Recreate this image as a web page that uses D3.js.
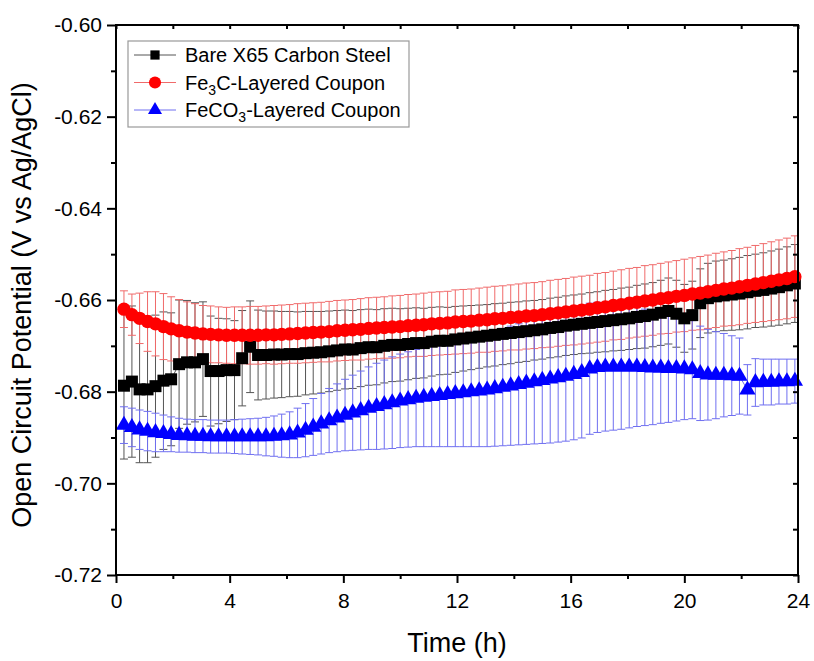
<!DOCTYPE html>
<html>
<head>
<meta charset="utf-8">
<script src="https://cdn.jsdelivr.net/npm/d3@7"></script>
<style>
  body { margin: 0; background: #fff; }
  svg { font-family: "Liberation Sans", Arial, sans-serif; }
</style>
</head>
<body>
<div id="chart"></div>
<script>
// sample times (h), one reading every 1000 s
const timeH = [0.28,0.56,0.83,1.11,1.39,1.67,1.94,2.22,2.50,2.78,3.06,3.33,3.61,3.89,4.17,4.44,4.72,5.00,5.28,5.56,
  5.83,6.11,6.39,6.67,6.94,7.22,7.50,7.78,8.06,8.33,8.61,8.89,9.17,9.44,9.72,10.00,10.28,10.56,10.83,11.11,
  11.39,11.67,11.94,12.22,12.50,12.78,13.06,13.33,13.61,13.89,14.17,14.44,14.72,15.00,15.28,15.56,15.83,16.11,16.39,16.67,
  16.94,17.22,17.50,17.78,18.06,18.33,18.61,18.89,19.17,19.44,19.72,20.00,20.28,20.56,20.83,21.11,21.39,21.67,21.94,22.22,
  22.50,22.78,23.06,23.33,23.61,23.89];

const bareOcp = [-0.6787,-0.6778,-0.6795,-0.6795,-0.6788,-0.6776,-0.6773,-0.6740,-0.6736,-0.6736,
  -0.6729,-0.6755,-0.6755,-0.6753,-0.6753,-0.6727,-0.6702,-0.6720,-0.6720,-0.6719,
  -0.6719,-0.6718,-0.6718,-0.6716,-0.6715,-0.6714,-0.6712,-0.6710,-0.6708,-0.6708,
  -0.6705,-0.6703,-0.6703,-0.6700,-0.6698,-0.6698,-0.6696,-0.6694,-0.6694,-0.6691,
  -0.6689,-0.6689,-0.6686,-0.6684,-0.6682,-0.6680,-0.6678,-0.6676,-0.6674,-0.6672,
  -0.6670,-0.6668,-0.6666,-0.6664,-0.6661,-0.6659,-0.6656,-0.6654,-0.6652,-0.6650,
  -0.6648,-0.6646,-0.6644,-0.6642,-0.6640,-0.6637,-0.6635,-0.6632,-0.6628,-0.6624,
  -0.6630,-0.6640,-0.6633,-0.6607,-0.6596,-0.6592,-0.6590,-0.6588,-0.6586,-0.6583,
  -0.6580,-0.6578,-0.6575,-0.6572,-0.6568,-0.6564];
const bareErr = [0.0160,0.0165,0.0160,0.0160,0.0155,0.0150,0.0145,0.0140,0.0135,0.0130,
  0.0125,0.0120,0.0115,0.0112,0.0108,0.0104,0.0100,0.0098,0.0096,0.0095,
  0.0094,0.0093,0.0092,0.0091,0.0090,0.0089,0.0088,0.0087,0.0086,0.0085,
  0.0084,0.0083,0.0082,0.0081,0.0080,0.0079,0.0078,0.0077,0.0076,0.0075,
  0.0074,0.0073,0.0072,0.0071,0.0070,0.0069,0.0068,0.0068,0.0067,0.0067,
  0.0066,0.0066,0.0065,0.0065,0.0065,0.0065,0.0065,0.0065,0.0065,0.0066,
  0.0066,0.0067,0.0067,0.0068,0.0068,0.0069,0.0070,0.0070,0.0071,0.0072,
  0.0073,0.0074,0.0074,0.0075,0.0076,0.0077,0.0077,0.0078,0.0079,0.0080,
  0.0080,0.0081,0.0082,0.0083,0.0084,0.0085];

const fe3cOcp = [-0.6620,-0.6632,-0.6640,-0.6647,-0.6652,-0.6658,-0.6663,-0.6667,-0.6670,-0.6672,
  -0.6674,-0.6675,-0.6676,-0.6677,-0.6677,-0.6677,-0.6677,-0.6677,-0.6676,-0.6676,
  -0.6675,-0.6674,-0.6673,-0.6672,-0.6671,-0.6670,-0.6669,-0.6667,-0.6666,-0.6665,
  -0.6664,-0.6662,-0.6661,-0.6660,-0.6659,-0.6658,-0.6656,-0.6655,-0.6654,-0.6652,
  -0.6651,-0.6650,-0.6648,-0.6647,-0.6646,-0.6644,-0.6643,-0.6641,-0.6640,-0.6638,
  -0.6637,-0.6635,-0.6634,-0.6632,-0.6630,-0.6628,-0.6626,-0.6624,-0.6622,-0.6620,
  -0.6617,-0.6615,-0.6612,-0.6610,-0.6607,-0.6605,-0.6602,-0.6600,-0.6597,-0.6595,
  -0.6592,-0.6590,-0.6587,-0.6585,-0.6582,-0.6579,-0.6576,-0.6574,-0.6571,-0.6568,
  -0.6565,-0.6562,-0.6559,-0.6556,-0.6553,-0.6549];
const fe3cErr = [0.0040,0.0045,0.0055,0.0065,0.0070,0.0072,0.0070,0.0068,0.0066,0.0064,
  0.0062,0.0062,0.0061,0.0061,0.0062,0.0062,0.0063,0.0063,0.0063,0.0064,
  0.0064,0.0064,0.0065,0.0065,0.0065,0.0065,0.0066,0.0066,0.0066,0.0066,
  0.0067,0.0067,0.0067,0.0067,0.0068,0.0068,0.0068,0.0068,0.0069,0.0069,
  0.0069,0.0069,0.0070,0.0070,0.0070,0.0070,0.0071,0.0071,0.0071,0.0071,
  0.0072,0.0072,0.0072,0.0072,0.0073,0.0073,0.0073,0.0074,0.0074,0.0074,
  0.0075,0.0075,0.0075,0.0076,0.0076,0.0076,0.0077,0.0077,0.0077,0.0078,
  0.0078,0.0079,0.0079,0.0080,0.0080,0.0081,0.0081,0.0082,0.0083,0.0083,
  0.0084,0.0085,0.0086,0.0087,0.0088,0.0089];

const feco3Ocp = [-0.6873,-0.6878,-0.6883,-0.6886,-0.6889,-0.6891,-0.6893,-0.6895,-0.6896,-0.6897,
  -0.6897,-0.6898,-0.6898,-0.6898,-0.6898,-0.6898,-0.6898,-0.6898,-0.6898,-0.6897,
  -0.6896,-0.6894,-0.6890,-0.6884,-0.6877,-0.6870,-0.6863,-0.6857,-0.6851,-0.6846,
  -0.6841,-0.6836,-0.6832,-0.6828,-0.6824,-0.6820,-0.6817,-0.6814,-0.6812,-0.6810,
  -0.6808,-0.6806,-0.6804,-0.6802,-0.6800,-0.6798,-0.6796,-0.6793,-0.6790,-0.6787,
  -0.6784,-0.6781,-0.6778,-0.6775,-0.6772,-0.6769,-0.6766,-0.6762,-0.6758,-0.6750,
  -0.6747,-0.6746,-0.6746,-0.6746,-0.6746,-0.6746,-0.6747,-0.6748,-0.6748,-0.6749,
  -0.6749,-0.6750,-0.6752,-0.6760,-0.6763,-0.6764,-0.6764,-0.6765,-0.6766,-0.6796,
  -0.6780,-0.6779,-0.6779,-0.6778,-0.6778,-0.6777];
const feco3Err = [0.0040,0.0042,0.0043,0.0043,0.0042,0.0040,0.0038,0.0037,0.0036,0.0036,
  0.0036,0.0036,0.0036,0.0036,0.0037,0.0038,0.0039,0.0040,0.0042,0.0044,
  0.0047,0.0050,0.0054,0.0058,0.0062,0.0066,0.0070,0.0074,0.0078,0.0082,
  0.0086,0.0090,0.0094,0.0097,0.0100,0.0102,0.0104,0.0106,0.0108,0.0110,
  0.0112,0.0114,0.0116,0.0118,0.0120,0.0122,0.0124,0.0126,0.0128,0.0130,
  0.0132,0.0134,0.0136,0.0138,0.0140,0.0141,0.0142,0.0143,0.0143,0.0143,
  0.0142,0.0140,0.0138,0.0136,0.0133,0.0130,0.0127,0.0124,0.0121,0.0118,
  0.0115,0.0111,0.0107,0.0103,0.0099,0.0095,0.0091,0.0087,0.0083,0.0055,
  0.0052,0.0050,0.0050,0.0049,0.0049,0.0048];

const xTicks = [0, 4, 8, 12, 16, 20, 24];
const xMinorTicks = [2, 6, 10, 14, 18, 22];
const yTicks = [-0.60, -0.62, -0.64, -0.66, -0.68, -0.70, -0.72];
const yMinorTicks = [-0.61, -0.63, -0.65, -0.67, -0.69, -0.71];

const series = [
    { name: "bare", label: ["Bare X65 Carbon Steel"], y: bareOcp, err: bareErr,
      color: "#000", errColor: "#555", symbol: d3.symbolSquare, size: 144, legendSize: 85 },
    { name: "fe3c", label: ["Fe", "3", "C-Layered Coupon"], y: fe3cOcp, err: fe3cErr,
      color: "#ff0000", errColor: "#f06a6a", symbol: d3.symbolCircle, size: 140, legendSize: 115 },
    { name: "feco3", label: ["FeCO", "3", "-Layered Coupon"], y: feco3Ocp, err: feco3Err,
      color: "#0000ff", errColor: "#6f6ff0", symbol: d3.symbolTriangle, size: 115, legendSize: 85 },
];

const width = 814, height = 661;
const margin = { top: 25, right: 16, bottom: 86, left: 116 };

const x = d3.scaleLinear().domain([0, 24]).range([margin.left, width - margin.right]);
const y = d3.scaleLinear().domain([-0.72, -0.60]).range([height - margin.bottom, margin.top]);

const svg = d3.select("#chart").append("svg")
    .attr("width", width)
    .attr("height", height)
    .attr("viewBox", [0, 0, width, height]);

const plot = svg.append("g");

// error bars first, markers on top
series.forEach(s => {
    const pts = timeH.map((t, i) => ({ t, v: s.y[i], e: s.err[i] }));
    const g = plot.append("g").attr("class", "err-" + s.name)
        .attr("stroke", s.errColor).attr("stroke-width", 1).attr("fill", "none");
    g.selectAll("line.v").data(pts).join("line").attr("class", "v")
        .attr("x1", d => x(d.t)).attr("x2", d => x(d.t))
        .attr("y1", d => y(d.v - d.e)).attr("y2", d => y(d.v + d.e));
    g.selectAll("line.hi").data(pts).join("line").attr("class", "hi")
        .attr("x1", d => x(d.t) - 4).attr("x2", d => x(d.t) + 4)
        .attr("y1", d => y(d.v + d.e)).attr("y2", d => y(d.v + d.e));
    g.selectAll("line.lo").data(pts).join("line").attr("class", "lo")
        .attr("x1", d => x(d.t) - 4).attr("x2", d => x(d.t) + 4)
        .attr("y1", d => y(d.v - d.e)).attr("y2", d => y(d.v - d.e));
});

series.forEach(s => {
    const pts = timeH.map((t, i) => ({ t, v: s.y[i] }));
    plot.append("path")
        .datum(pts)
        .attr("fill", "none")
        .attr("stroke", s.errColor)
        .attr("stroke-width", 1)
        .attr("d", d3.line().x(d => x(d.t)).y(d => y(d.v)));
    plot.append("g").selectAll("path").data(pts).join("path")
        .attr("transform", d => `translate(${x(d.t)},${y(d.v)})`)
        .attr("d", d3.symbol(s.symbol, s.size))
        .attr("fill", s.color);
});

// axes
const axisFont = g => g.selectAll("text")
    .attr("font-family", "Liberation Sans, Arial, sans-serif")
    .attr("font-size", 21)
    .attr("fill", "#000");

const bottom = height - margin.bottom;
svg.append("g")
    .attr("transform", `translate(0,${bottom})`)
    .call(d3.axisBottom(x).tickValues(xTicks).tickSize(8).tickPadding(10).tickFormat(d3.format("d")))
    .call(g => g.select(".domain").remove())
    .call(g => g.selectAll("line").attr("stroke-width", 2))
    .call(axisFont);
svg.append("g")
    .attr("transform", `translate(0,${bottom})`)
    .call(d3.axisBottom(x).tickValues(xMinorTicks).tickSize(4).tickFormat(""))
    .call(g => g.select(".domain").remove())
    .call(g => g.selectAll("line").attr("stroke-width", 2));
svg.append("g")
    .attr("transform", `translate(0,${margin.top})`)
    .call(d3.axisBottom(x).tickValues(xTicks.concat(xMinorTicks)).tickSize(4).tickFormat(""))
    .call(g => g.select(".domain").remove())
    .call(g => g.selectAll("line").attr("stroke-width", 2));

svg.append("g")
    .attr("transform", `translate(${margin.left},0)`)
    .call(d3.axisLeft(y).tickValues(yTicks).tickSize(9).tickPadding(5).tickFormat(d => d.toFixed(2)))
    .call(g => g.select(".domain").remove())
    .call(g => g.selectAll("line").attr("stroke-width", 2))
    .call(axisFont);
svg.append("g")
    .attr("transform", `translate(${margin.left},0)`)
    .call(d3.axisLeft(y).tickValues(yMinorTicks).tickSize(5).tickFormat(""))
    .call(g => g.select(".domain").remove())
    .call(g => g.selectAll("line").attr("stroke-width", 2));
svg.append("g")
    .attr("transform", `translate(${width - margin.right},0)`)
    .call(d3.axisLeft(y).tickValues(yTicks.concat(yMinorTicks)).tickSize(5).tickFormat(""))
    .call(g => g.select(".domain").remove())
    .call(g => g.selectAll("line").attr("stroke-width", 2));

svg.append("rect")
    .attr("x", margin.left).attr("y", margin.top)
    .attr("width", width - margin.right - margin.left)
    .attr("height", bottom - margin.top)
    .attr("fill", "none").attr("stroke", "#000").attr("stroke-width", 2);

// axis titles
svg.append("text")
    .attr("x", (margin.left + width - margin.right) / 2)
    .attr("y", 652)
    .attr("text-anchor", "middle")
    .attr("font-size", 27)
    .text("Time (h)");
svg.append("text")
    .attr("transform", `translate(31,${(margin.top + bottom) / 2 + 5}) rotate(-90)`)
    .attr("text-anchor", "middle")
    .attr("font-size", 27)
    .text("Open Circuit Potential (V vs Ag/AgCl)");

// legend
const legend = svg.append("g").attr("transform", "translate(128,41)");
legend.append("rect")
    .attr("width", 281).attr("height", 86)
    .attr("fill", "#fff").attr("stroke", "#999").attr("stroke-width", 1.2);
series.forEach((s, i) => {
    const ly = 14 + i * 27.5;
    const row = legend.append("g").attr("transform", `translate(0,${ly})`);
    row.append("line").attr("x1", 6).attr("x2", 48).attr("y1", 0).attr("y2", 0)
        .attr("stroke", s.errColor).attr("stroke-width", 1);
    row.append("path").attr("transform", "translate(27,0)")
        .attr("d", d3.symbol(s.symbol, s.legendSize)).attr("fill", s.color);
    const txt = row.append("text").attr("x", 57).attr("y", 7).attr("font-size", 20);
    s.label.forEach((part, k) => {
        const sub = s.label.length > 1 && k === 1;
        txt.append("tspan")
            .attr("font-size", sub ? 14 : 20)
            .attr("dy", sub ? 5 : (k === 2 ? -5 : 0))
            .text(part);
    });
});
</script>
</body>
</html>
